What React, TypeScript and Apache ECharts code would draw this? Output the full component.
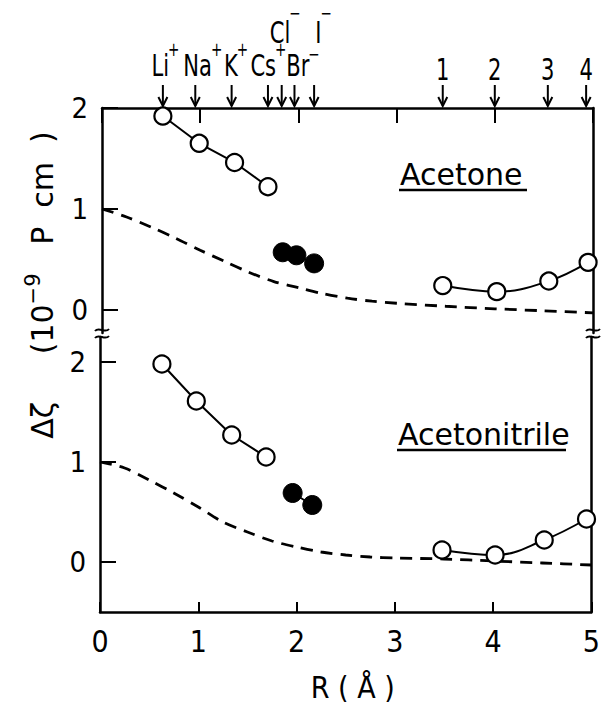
import React, { useEffect, useRef } from "react";
import * as echarts from "echarts";

// ---- data ----
const ionSymbols = ["Li", "Na", "K", "Cs", "Cl", "Br", "I"];
const ionCharges = ["+", "+", "+", "+", "−", "−", "−"];
const ionRadii = [0.62, 0.95, 1.32, 1.69, 1.83, 1.96, 2.16];
const solventLabels = ["1", "2", "3", "4"];
const solventRadii = [3.47, 4.0, 4.54, 4.93];

const xTickLabels = [0, 1, 2, 3, 4, 5];
const yTickValues = [0, 1, 2];

// Acetone (top panel)
const acetoneCationR = [0.62, 0.99, 1.35, 1.69];
const acetoneCationV = [1.92, 1.65, 1.46, 1.22];
const acetoneAnionR = [1.84, 1.98, 2.16];
const acetoneAnionV = [0.57, 0.54, 0.46];
const acetoneSolventR = [3.47, 4.02, 4.55, 4.95];
const acetoneSolventV = [0.24, 0.18, 0.285, 0.47];

// Acetonitrile (bottom panel)
const acnCationR = [0.63, 0.98, 1.34, 1.69];
const acnCationV = [1.98, 1.61, 1.27, 1.05];
const acnAnionR = [1.96, 2.16];
const acnAnionV = [0.69, 0.57];
const acnSolventR = [3.48, 4.02, 4.52, 4.95];
const acnSolventV = [0.12, 0.07, 0.22, 0.43];

// dashed theoretical curves
const curveR = [0, 0.25, 0.5, 0.75, 1, 1.25, 1.5, 1.75, 2, 2.25, 2.5, 2.75, 3, 3.5, 4, 4.5, 5];
const acetoneCurve = [1.0, 0.92, 0.82, 0.71, 0.59, 0.48, 0.37, 0.28, 0.22, 0.16, 0.115, 0.085, 0.065, 0.035, 0.01, -0.01, -0.03];
const acnCurve = [1.0, 0.94, 0.82, 0.69, 0.55, 0.4, 0.3, 0.21, 0.15, 0.1, 0.07, 0.05, 0.04, 0.03, 0.01, -0.01, -0.03];

const zip = (a: number[], b: number[]) => a.map((v, i) => [v, b[i]]);

const FONT_C = '"DejaVu Sans Condensed", "DejaVu Sans", sans-serif';
const FONT_W = '"DejaVu Sans", sans-serif';
const BLACK = "#000";

// label styling (positions relative to arrow tip)
const LABEL_SIZE = 31;
const SUP_SIZE = 20;
const SX = 0.68;
const ionLabelPos: Record<string, number[]> = {
  Li: [3, -41, -16],
  Na: [8, -41, -16],
  K: [5, -41, -16],
  Cs: [1, -41, -16],
  Cl: [4, -74, -19],
  Br: [9, -41, -11],
  I: [10, -74, -19],
};

let measureCtx: CanvasRenderingContext2D | null = null;
const measure = (text: string, size: number) => {
  if (!measureCtx) measureCtx = document.createElement("canvas").getContext("2d");
  if (!measureCtx) return text.length * size * 0.6;
  measureCtx.font = `${size}px "DejaVu Sans", sans-serif`;
  return measureCtx.measureText(text).width;
};

export default function App() {
  const ref = useRef<HTMLDivElement>(null);

  useEffect(() => {
    if (!ref.current) return;
    const chart = echarts.init(ref.current, undefined, { renderer: "svg" });

    const axisLine = { show: true, onZero: false, lineStyle: { color: BLACK, width: 2.5 } };
    const openSym = {
      symbol: "circle",
      symbolSize: 17,
      itemStyle: { color: "#fff", borderColor: BLACK, borderWidth: 2.2 },
      lineStyle: { color: BLACK, width: 2 },
    };
    const filledSym = {
      symbol: "circle",
      symbolSize: 19,
      itemStyle: { color: BLACK, borderColor: BLACK, borderWidth: 1 },
      lineStyle: { color: BLACK, width: 2 },
    };
    const dashed = {
      symbol: "none",
      smooth: 0.3,
      lineStyle: { color: BLACK, width: 2.8, type: [12, 8] },
    };

    const arrowTipY = 2.02;

    const arrowParts = (px: number, py: number) => [
      { type: "line", shape: { x1: px, y1: py - 21, x2: px, y2: py }, style: { stroke: BLACK, lineWidth: 2 } },
      {
        type: "polyline",
        shape: { points: [[px - 4.5, py - 9], [px, py], [px + 4.5, py - 9]] },
        style: { stroke: BLACK, lineWidth: 2, fill: "none" },
      },
    ];

    const textEl = (text: string, x: number, y: number, size: number) => ({
      type: "text",
      x,
      y,
      scaleX: SX,
      style: {
        text,
        fontSize: size,
        fontFamily: FONT_W,
        fill: BLACK,
        align: "left",
        verticalAlign: "middle",
      },
    });

    const ionRender = (params: any, api: any) => {
      const i = params.dataIndex;
      const sym = ionSymbols[i];
      const chg = ionCharges[i];
      const [px, py] = api.coord([api.value(0), api.value(1)]);
      const pos = ionLabelPos[sym] || [0, -41, -16];
      const wb = measure(sym, LABEL_SIZE) * SX;
      const ws = measure(chg, SUP_SIZE) * SX;
      const total = wb + ws;
      const left = px + pos[0] - total / 2;
      const cy = py + pos[1];
      return {
        type: "group",
        children: [
          ...arrowParts(px, py),
          textEl(sym, left, cy, LABEL_SIZE),
          textEl(chg, left + wb - 1, cy + pos[2], SUP_SIZE),
        ],
      };
    };

    const solventRender = (params: any, api: any) => {
      const i = params.dataIndex;
      const txt = solventLabels[i];
      const [px, py] = api.coord([api.value(0), api.value(1)]);
      const w = measure(txt, LABEL_SIZE) * SX;
      return {
        type: "group",
        children: [...arrowParts(px, py), textEl(txt, px - w / 2, py - 37, LABEL_SIZE)],
      };
    };

    const breakMarks = (x: number) => [
      { type: "rect", shape: { x: x - 7, y: 330, width: 14, height: 6 }, style: { fill: "#fff" } },
      {
        type: "bezierCurve",
        shape: { x1: x - 7, y1: 331, cpx1: x - 3, cpy1: 326, cpx2: x + 3, cpy2: 334, x2: x + 7, y2: 329 },
        style: { stroke: BLACK, lineWidth: 2, fill: "none" },
      },
      {
        type: "bezierCurve",
        shape: { x1: x - 7, y1: 338, cpx1: x - 3, cpy1: 333, cpx2: x + 3, cpy2: 341, x2: x + 7, y2: 336 },
        style: { stroke: BLACK, lineWidth: 2, fill: "none" },
      },
    ];

    const option: any = {
      animation: false,
      backgroundColor: "#fff",
      grid: [
        { left: 102, width: 491, top: 108, height: 225 },
        { left: 100, width: 493, top: 337, height: 275 },
      ],
      xAxis: [
        {
          gridIndex: 0,
          type: "value",
          position: "top",
          min: 0,
          max: 5,
          interval: 1,
          axisLine,
          axisTick: { show: true, inside: true, length: 15, lineStyle: { color: BLACK, width: 2 } },
          axisLabel: { show: false },
          splitLine: { show: false },
        },
        {
          gridIndex: 1,
          type: "value",
          position: "bottom",
          min: 0,
          max: 5,
          interval: 1,
          axisLine,
          axisTick: { show: true, inside: true, length: 10, lineStyle: { color: BLACK, width: 2 } },
          axisLabel: {
            show: true,
            customValues: xTickLabels,
            color: BLACK,
            fontSize: 30,
            fontFamily: FONT_C,
            margin: 14,
          },
          splitLine: { show: false },
          name: "R ( Å )",
          nameLocation: "middle",
          nameGap: 60,
          nameTextStyle: { color: BLACK, fontSize: 30, fontFamily: FONT_C, padding: [0, 0, 0, 14] },
        },
      ],
      yAxis: [
        {
          gridIndex: 0,
          type: "value",
          min: -0.23,
          max: 2,
          axisLine,
          axisTick: { show: true, inside: true, length: 16, customValues: yTickValues, lineStyle: { color: BLACK, width: 2 } },
          axisLabel: { show: true, customValues: yTickValues, color: BLACK, fontSize: 29, fontFamily: FONT_C, margin: 14 },
          splitLine: { show: false },
        },
        {
          gridIndex: 0,
          type: "value",
          position: "right",
          min: -0.23,
          max: 2,
          axisLine,
          axisTick: { show: false },
          axisLabel: { show: false },
          splitLine: { show: false },
        },
        {
          gridIndex: 1,
          type: "value",
          min: -0.5,
          max: 2.25,
          axisLine,
          axisTick: { show: true, inside: true, length: 16, customValues: yTickValues, lineStyle: { color: BLACK, width: 2 } },
          axisLabel: { show: true, customValues: yTickValues, color: BLACK, fontSize: 29, fontFamily: FONT_C, margin: 14 },
          splitLine: { show: false },
        },
        {
          gridIndex: 1,
          type: "value",
          position: "right",
          min: -0.5,
          max: 2.25,
          axisLine,
          axisTick: { show: false },
          axisLabel: { show: false },
          splitLine: { show: false },
        },
      ],
      series: [
        { type: "line", xAxisIndex: 0, yAxisIndex: 0, data: zip(curveR, acetoneCurve), ...dashed, z: 1 },
        { type: "line", xAxisIndex: 0, yAxisIndex: 0, data: zip(acetoneCationR, acetoneCationV), ...openSym },
        { type: "line", xAxisIndex: 0, yAxisIndex: 0, data: zip(acetoneAnionR, acetoneAnionV), ...filledSym },
        { type: "line", xAxisIndex: 0, yAxisIndex: 0, data: zip(acetoneSolventR, acetoneSolventV), smooth: 0.4, ...openSym },
        { type: "line", xAxisIndex: 1, yAxisIndex: 2, data: zip(curveR, acnCurve), ...dashed, z: 1 },
        { type: "line", xAxisIndex: 1, yAxisIndex: 2, data: zip(acnCationR, acnCationV), ...openSym },
        { type: "line", xAxisIndex: 1, yAxisIndex: 2, data: zip(acnAnionR, acnAnionV), ...filledSym },
        { type: "line", xAxisIndex: 1, yAxisIndex: 2, data: zip(acnSolventR, acnSolventV), smooth: 0.4, ...openSym },
        {
          type: "custom",
          xAxisIndex: 0,
          yAxisIndex: 0,
          clip: false,
          silent: true,
          renderItem: ionRender,
          data: ionRadii.map((r) => [r, arrowTipY]),
        },
        {
          type: "custom",
          xAxisIndex: 0,
          yAxisIndex: 0,
          clip: false,
          silent: true,
          renderItem: solventRender,
          data: solventRadii.map((r) => [r, arrowTipY]),
        },
      ],
      graphic: [
        {
          type: "text",
          x: 42,
          y: 285,
          rotation: Math.PI / 2,
          style: {
            text: "{a|Δζ     (10}{s|−9}{a|   P  cm  )}",
            rich: {
              a: { fontSize: 30, fontFamily: FONT_W, fill: BLACK, lineHeight: 40 },
              s: { fontSize: 21, fontFamily: FONT_W, fill: BLACK, lineHeight: 14, verticalAlign: "top" },
            },
            align: "center",
            verticalAlign: "middle",
          },
        },
        {
          type: "text",
          x: 400,
          y: 174,
          style: { text: "Acetone", fontSize: 30, fontFamily: FONT_W, fill: BLACK, align: "left", verticalAlign: "middle" },
        },
        { type: "line", shape: { x1: 399, y1: 190, x2: 527, y2: 190 }, style: { stroke: BLACK, lineWidth: 2.5 } },
        {
          type: "text",
          x: 398,
          y: 434,
          style: { text: "Acetonitrile", fontSize: 30, fontFamily: FONT_W, fill: BLACK, align: "left", verticalAlign: "middle" },
        },
        { type: "line", shape: { x1: 397, y1: 450, x2: 566, y2: 450 }, style: { stroke: BLACK, lineWidth: 2.5 } },
        ...breakMarks(102),
        ...breakMarks(593),
      ],
    };

    chart.setOption(option);
    return () => chart.dispose();
  }, []);

  return (
    <div
      ref={ref}
      style={{ position: "fixed", left: 0, top: 0, width: 603, height: 712, background: "#fff" }}
    />
  );
}
